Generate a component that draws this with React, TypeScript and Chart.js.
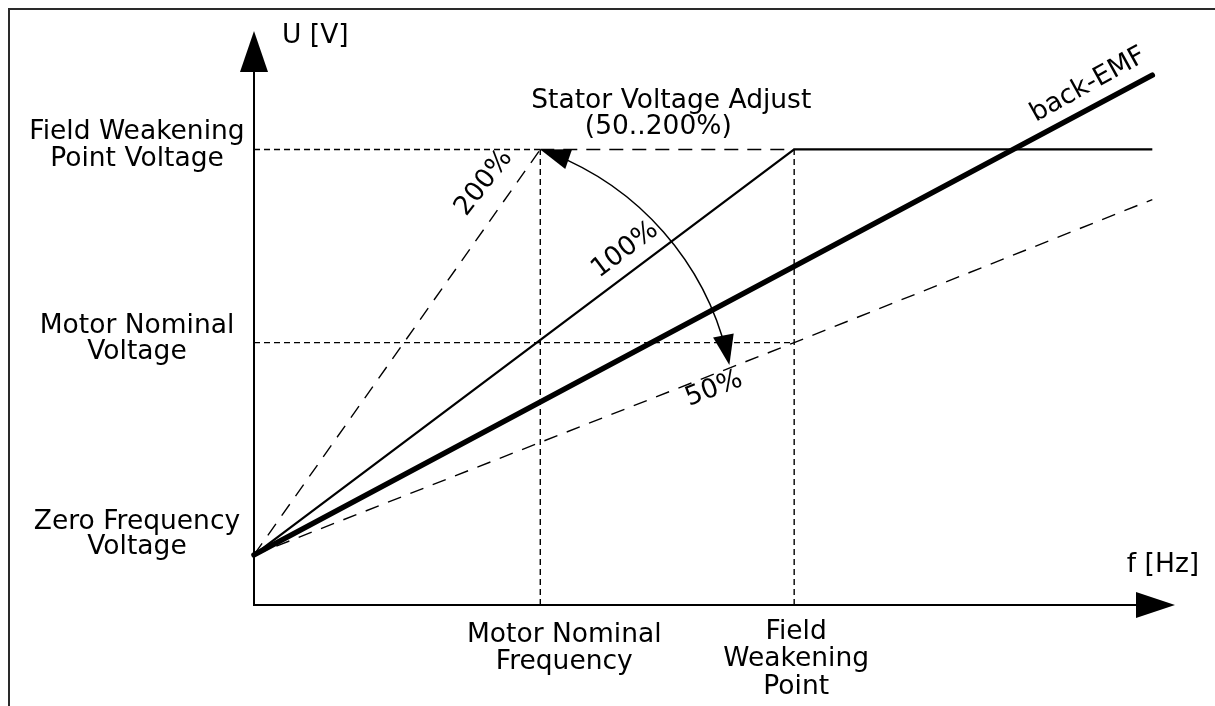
import React, { useEffect, useRef } from "react";
import { Chart, registerables } from "chart.js";

Chart.register(...registerables);

// Axis extents (relative units: 100 = field weakening point / its voltage)
const X_MAX = 170.5;
const Y_MAX = 126;

// Key levels
const zeroFrequencyVoltage = 11;
const motorNominalVoltage = 57.6;
const fieldWeakeningPointVoltage = 100;
const motorNominalFrequency = 53;
const fieldWeakeningPoint = 100;
const curveEnd = 166.3;

// U/f curves
const uf100X = [0, fieldWeakeningPoint, curveEnd];
const uf100Y = [zeroFrequencyVoltage, fieldWeakeningPointVoltage, fieldWeakeningPointVoltage];
const uf200X = [0, motorNominalFrequency];
const uf200Y = [zeroFrequencyVoltage, fieldWeakeningPointVoltage];
const uf50X = [0, fieldWeakeningPoint, curveEnd];
const uf50Y = [zeroFrequencyVoltage, motorNominalVoltage, 89];
const backEmfX = [0, curveEnd];
const backEmfY = [zeroFrequencyVoltage, 116.3];

// Stator voltage adjust arc (start, middle, end)
const adjustArcX = [motorNominalFrequency, 77, 88];
const adjustArcY = [fieldWeakeningPointVoltage, 80.2, 52.7];

// Labels
const yAxisTitle = "U [V]";
const xAxisTitle = "f [Hz]";
const yLabels = [
  ["Field Weakening", "Point Voltage"],
  ["Motor Nominal", "Voltage"],
  ["Zero Frequency", "Voltage"],
];
const xLabels = [
  ["Motor Nominal", "Frequency"],
  ["Field", "Weakening", "Point"],
];
const adjustTitle = ["Stator Voltage Adjust", "(50..200%)"];
const pctLabels = ["200%", "100%", "50%"];
const backEmfLabel = "back-EMF";

const pts = (xs: number[], ys: number[]) => xs.map((x, i) => ({ x, y: ys[i] }));

const FONT = "26.5px 'DejaVu Sans', Verdana, sans-serif";

function arrowHead(ctx: CanvasRenderingContext2D, tx: number, ty: number, ang: number, len: number, half: number) {
  const bx = tx - len * Math.cos(ang);
  const by = ty - len * Math.sin(ang);
  const nx = -Math.sin(ang);
  const ny = Math.cos(ang);
  ctx.beginPath();
  ctx.moveTo(tx, ty);
  ctx.lineTo(bx + half * nx, by + half * ny);
  ctx.lineTo(bx - half * nx, by - half * ny);
  ctx.closePath();
  ctx.fill();
}

function rotText(ctx: CanvasRenderingContext2D, t: string, cx: number, cy: number, deg: number) {
  ctx.save();
  ctx.translate(cx, cy);
  ctx.rotate((deg * Math.PI) / 180);
  ctx.fillText(t, 0, 0);
  ctx.restore();
}

const overlay = {
  id: "overlay",
  afterDatasetsDraw(chart: any) {
    const { ctx } = chart;
    const xs = chart.scales.x;
    const ys = chart.scales.y;
    const px = (v: number) => xs.getPixelForValue(v);
    const py = (v: number) => ys.getPixelForValue(v);
    ctx.save();

    // frame
    ctx.strokeStyle = "#2a2a2a";
    ctx.lineWidth = 2;
    ctx.beginPath();
    ctx.moveTo(9, 706);
    ctx.lineTo(9, 9);
    ctx.lineTo(1215, 9);
    ctx.stroke();

    // axes
    const x0 = px(0);
    const y0 = py(0);
    const yTip = py(Y_MAX);
    const xTip = px(X_MAX);
    ctx.strokeStyle = "#000";
    ctx.fillStyle = "#000";
    ctx.lineWidth = 2;
    ctx.beginPath();
    ctx.moveTo(x0, y0 + 1);
    ctx.lineTo(x0, yTip + 30);
    ctx.moveTo(x0 - 1, y0);
    ctx.lineTo(xTip - 30, y0);
    ctx.stroke();
    arrowHead(ctx, x0, yTip, -Math.PI / 2, 41, 14);
    arrowHead(ctx, xTip, y0, 0, 39, 13);

    // stator voltage adjust arc through three points
    const P = adjustArcX.map((v, i) => [px(v), py(adjustArcY[i])]);
    const [ax, ay] = P[0], [bx, by] = P[1], [cx, cy] = P[2];
    const d = 2 * (ax * (by - cy) + bx * (cy - ay) + cx * (ay - by));
    const ux = ((ax * ax + ay * ay) * (by - cy) + (bx * bx + by * by) * (cy - ay) + (cx * cx + cy * cy) * (ay - by)) / d;
    const uy = ((ax * ax + ay * ay) * (cx - bx) + (bx * bx + by * by) * (ax - cx) + (cx * cx + cy * cy) * (bx - ax)) / d;
    const r = Math.hypot(ax - ux, ay - uy);
    const a0 = Math.atan2(ay - uy, ax - ux);
    const a1 = Math.atan2(cy - uy, cx - ux);
    ctx.lineWidth = 1.5;
    ctx.beginPath();
    ctx.arc(ux, uy, r, a0 + 0.04, a1 - 0.04, false);
    ctx.stroke();
    const tStart = a0 - Math.PI / 2;
    const tEnd = a1 + Math.PI / 2;
    arrowHead(ctx, ax, ay, tStart, 30, 10.5);
    arrowHead(ctx, cx, cy, tEnd, 30, 10.5);

    // texts
    ctx.font = FONT;
    ctx.fillStyle = "#000";
    ctx.textBaseline = "middle";
    ctx.textAlign = "left";
    ctx.fillText(yAxisTitle, x0 + 28, 36);
    ctx.textAlign = "center";
    ctx.fillText(xAxisTitle, xTip - 12, y0 - 40);

    const lx = x0 - 117;
    const yl = [
      [py(fieldWeakeningPointVoltage) - 17, 27],
      [py(motorNominalVoltage) - 16, 26],
      [py(zeroFrequencyVoltage) - 33, 25],
    ];
    yLabels.forEach((lines, i) => {
      lines.forEach((t, j) => ctx.fillText(t, lx, yl[i][0] + j * yl[i][1]));
    });

    const xl = [
      [px(motorNominalFrequency) + 24, y0 + 30],
      [px(fieldWeakeningPoint) + 2, y0 + 27],
    ];
    xLabels.forEach((lines, i) => {
      lines.forEach((t, j) => ctx.fillText(t, xl[i][0], xl[i][1] + j * 27.5));
    });

    const sx = px(motorNominalFrequency);
    const sy = py(fieldWeakeningPointVoltage);
    ctx.fillText(adjustTitle[0], sx + 131, sy - 48);
    ctx.fillText(adjustTitle[1], sx + 118, sy - 22);

    rotText(ctx, pctLabels[0], 484, 183, -52);
    rotText(ctx, pctLabels[1], 625, 250, -37);
    rotText(ctx, pctLabels[2], 714, 389, -21);
    rotText(ctx, backEmfLabel, 1088, 85, -29);

    ctx.restore();
  },
};

export default function App() {
  const ref = useRef<HTMLCanvasElement>(null);
  useEffect(() => {
    if (!ref.current) return;
    const thin = 1.4;
    const chart = new Chart(ref.current, {
      type: "line",
      data: {
        datasets: [
          { data: pts([0, motorNominalFrequency], [fieldWeakeningPointVoltage, fieldWeakeningPointVoltage]), borderColor: "#000", borderWidth: thin, borderDash: [6, 4] },
          { data: pts([motorNominalFrequency, fieldWeakeningPoint], [fieldWeakeningPointVoltage, fieldWeakeningPointVoltage]), borderColor: "#000", borderWidth: thin, borderDash: [14, 9] },
          { data: pts([0, fieldWeakeningPoint], [motorNominalVoltage, motorNominalVoltage]), borderColor: "#000", borderWidth: thin, borderDash: [6, 4] },
          { data: pts([motorNominalFrequency, motorNominalFrequency], [0, fieldWeakeningPointVoltage]), borderColor: "#000", borderWidth: thin, borderDash: [6, 4] },
          { data: pts([fieldWeakeningPoint, fieldWeakeningPoint], [0, fieldWeakeningPointVoltage]), borderColor: "#000", borderWidth: thin, borderDash: [6, 4] },
          { data: pts(uf200X, uf200Y), borderColor: "#000", borderWidth: thin, borderDash: [14, 10] },
          { data: pts(uf50X, uf50Y), borderColor: "#000", borderWidth: thin, borderDash: [14, 10] },
          { data: pts(uf100X, uf100Y), borderColor: "#000", borderWidth: 2.2 },
          { data: pts(backEmfX, backEmfY), borderColor: "#000", borderWidth: 5.5, borderCapStyle: "round" },
        ] as any,
      },
      options: {
        animation: false,
        responsive: false,
        devicePixelRatio: 1,
        layout: { padding: { left: 254, right: 40, top: 31, bottom: 101 } },
        elements: { point: { radius: 0, hoverRadius: 0 }, line: { tension: 0 } },
        datasets: { line: { clip: false as any, fill: false } },
        plugins: { legend: { display: false }, tooltip: { enabled: false } },
        events: [],
        scales: {
          x: { type: "linear", min: 0, max: X_MAX, display: false },
          y: { type: "linear", min: 0, max: Y_MAX, display: false },
        },
      },
      plugins: [overlay],
    });
    return () => chart.destroy();
  }, []);
  return (
    <div style={{ position: "absolute", left: 0, top: 0, width: 1215, height: 706, background: "#fff" }}>
      <canvas ref={ref} width={1215} height={706} style={{ display: "block" }} />
    </div>
  );
}
